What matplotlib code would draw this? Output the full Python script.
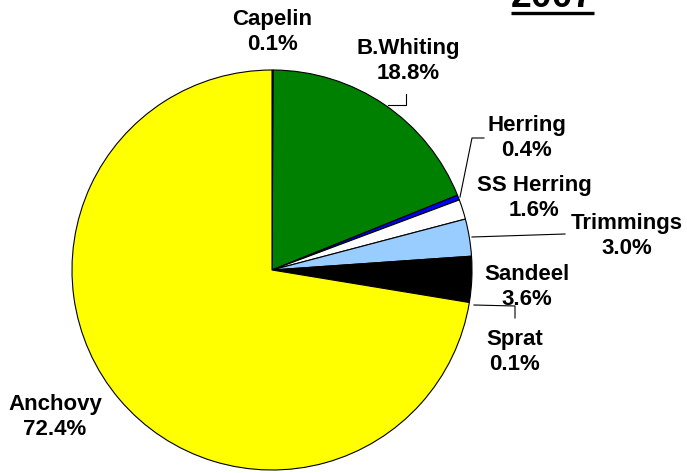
import matplotlib
matplotlib.use("Agg")
from matplotlib import pyplot as plt

# slices, clockwise from 12 o'clock
species = ['Capelin', 'B.Whiting', 'Herring', 'SS Herring', 'Trimmings', 'Sandeel', 'Sprat', 'Anchovy']
shares = [0.1, 18.8, 0.4, 1.6, 3.0, 3.6, 0.1, 72.4]
colours = ['#FF0000', '#008000', '#0000FF', '#FFFFFF', '#99CCFF', '#000000', '#800080', '#FFFF00']

W, H = 687, 473
# label block centres in pixel coords (y measured from top)
lblPos = [(272, 32), (408, 61), (527, 138), (534, 198), (627, 236), (527, 287), (515, 352), (55, 417)]
# leader lines (pixel coords)
leaders = [
    [(388, 105), (406, 105), (406, 94)],
    [(460, 197), (472, 138), (484, 138)],
    [(472, 237), (565, 234)],
    [(474, 305), (515, 306), (515, 318)],
]

def main():
    fig = plt.figure(figsize=(W / 100, H / 100), dpi=100)
    ax = fig.add_axes([0, 0, 1, 1])
    ax.set_xlim(0, W)
    ax.set_ylim(0, H)
    ax.set_aspect('equal')
    ax.axis('off')

    cx, cy, r = 272, H - 270, 200
    ax.pie(shares, colors=colours, startangle=90, counterclock=False,
           center=(cx, cy), radius=r, frame=True,
           wedgeprops=dict(edgecolor='black', linewidth=0.8))
    ax.set_xlim(0, W)
    ax.set_ylim(0, H)
    ax.axis('off')

    for name, val, (px, py) in zip(species, shares, lblPos):
        ax.text(px, H - py, f'{name}\n{val:.1f}%', ha='center', va='center',
                fontsize=16, fontweight='bold', family='Liberation Sans',
                linespacing=1.3, color='black')

    for pts in leaders:
        xs = [p[0] for p in pts]
        ys = [H - p[1] for p in pts]
        ax.plot(xs, ys, color='black', linewidth=0.8)

    # title, mostly cropped off the top
    ax.text(552, H - 7, '2007', ha='center', va='baseline', fontsize=27,
            fontweight='bold', family='Liberation Sans')
    ax.plot([511, 594], [H - 13.5, H - 13.5], color='black', linewidth=2.4, solid_capstyle='butt')

    fig.savefig('out.png', dpi=100)


if __name__ == '__main__': main()
